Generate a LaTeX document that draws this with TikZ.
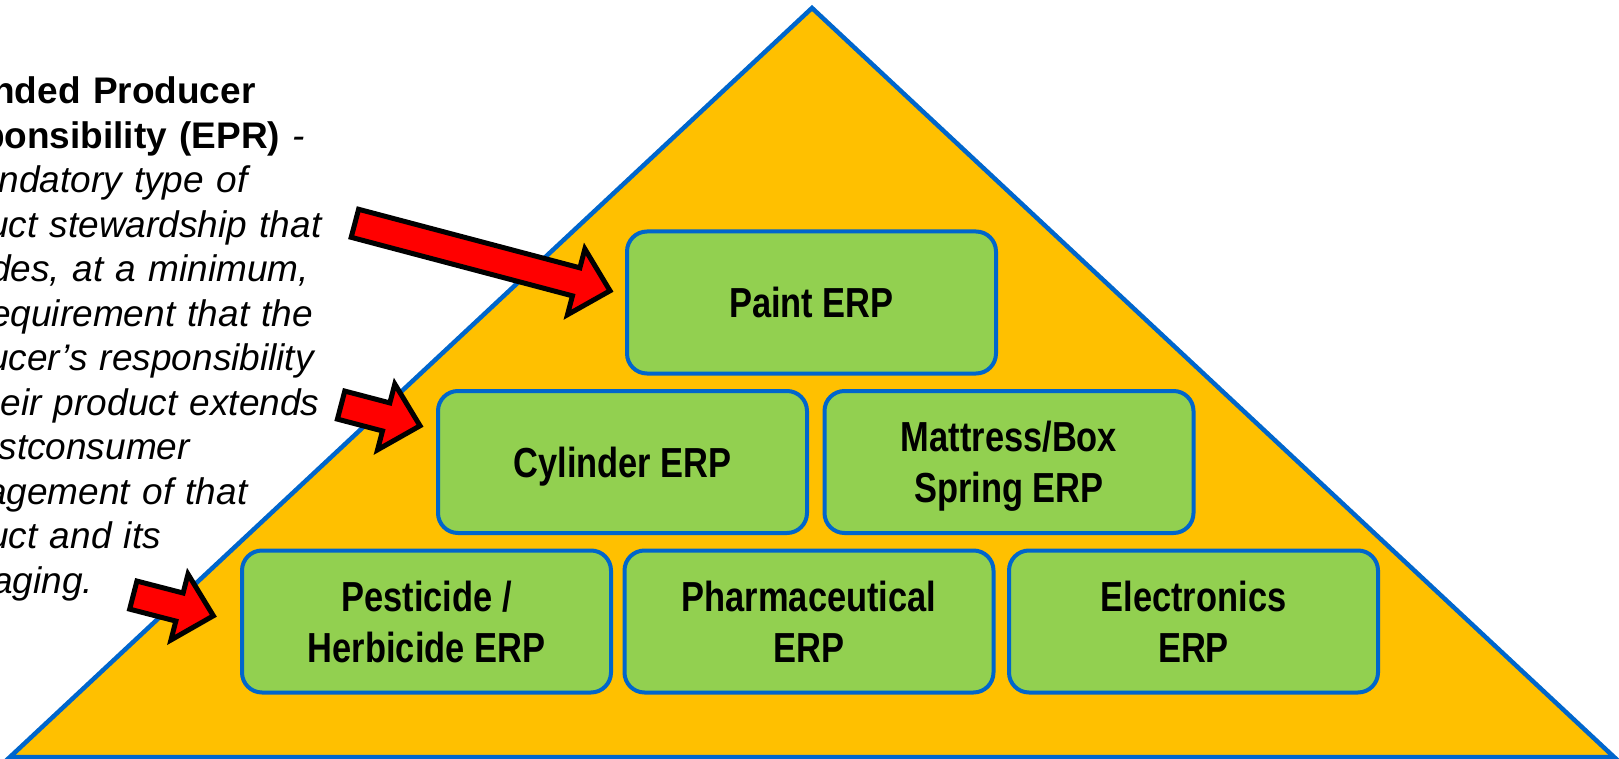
\documentclass[tikz,border=0pt]{standalone}
\usepackage{fontspec}
\setmainfont{Liberation Sans}
\newfontfamily\boxfont[FakeStretch=0.82]{Liberation Sans}
\definecolor{trifill}{HTML}{FFC000}
\definecolor{edgeblue}{HTML}{0066CC}
\definecolor{boxgreen}{HTML}{92D050}
\definecolor{arrowred}{HTML}{FF0000}
\newcommand\redarrow[5]{% name, tail x, tail y, angle, length
  \begin{scope}[shift={(#2,#3)}, rotate=#4]
    \coordinate (#1-tail) at (0,0);
    \coordinate (#1-tip) at (#5,0);
    \path[blockarrow] (0,-14.5) -- ({#5-35},-14.5) -- ({#5-35},-34) -- (#1-tip)
      -- ({#5-35},34) -- ({#5-35},14.5) -- (0,14.5) -- cycle;
  \end{scope}}
\begin{document}
\begin{tikzpicture}[x=1pt,y=-1pt,
  pyramid/.style={draw=edgeblue, fill=trifill, line width=4.5pt, line join=miter},
  erpbox/.style={draw=edgeblue, fill=boxgreen, line width=4pt, rounded corners=20pt,
    minimum width=369pt, minimum height=142pt, inner sep=0pt, align=center,
    text depth=-9pt, font={\boxfont\bfseries\fontsize{42}{51}\selectfont}},
  blockarrow/.style={draw=black, fill=arrowred, line width=5pt, line join=miter, miter limit=10},
  deftext/.style={text width=480pt, align=left, inner sep=0pt,
    font={\fontsize{37}{44.5}\selectfont}}]
\useasboundingbox (0,0) rectangle (1619,759);
\clip (0,0) rectangle (1619,759);
% pyramid
\path[pyramid] (812,8) coordinate (apex) -- (10,757) coordinate (bl)
  -- (1614,757) coordinate (br) -- cycle;
% boxes
\node[erpbox] (paint) at (811.5,302.5) {Paint ERP};
\node[erpbox] (cyl)   at (622.5,462)   {Cylinder ERP};
\node[erpbox] (matt)  at (1009,462)    {Mattress/Box\\Spring ERP};
\node[erpbox] (pest)  at (426.5,621.5) {Pesticide /\\Herbicide ERP};
\node[erpbox] (pharm) at (809,621.5)   {Pharmaceutical\\ERP};
\node[erpbox] (elec)  at (1193.5,621.5){Electronics\\ERP};
% definition text
\node[deftext, anchor=base west] (epr) at (-86,104)
  {{\bfseries Extended Producer\\Responsibility (EPR)} \itshape -\\
   a mandatory type of\\
   product stewardship that\\
   includes, at a minimum,\\
   the requirement that the\\
   producer’s responsibility\\
   for their product extends\\
   to postconsumer\\
   management of that\\
   product and its\\
   packaging.};
% arrows
\redarrow{a1}{354.9}{223.3}{-14.82}{263.9}
\redarrow{a2}{341.1}{405.1}{-14.7}{81.6}
\redarrow{a3}{133.3}{595.1}{-14.5}{82.7}
\end{tikzpicture}
\end{document}
